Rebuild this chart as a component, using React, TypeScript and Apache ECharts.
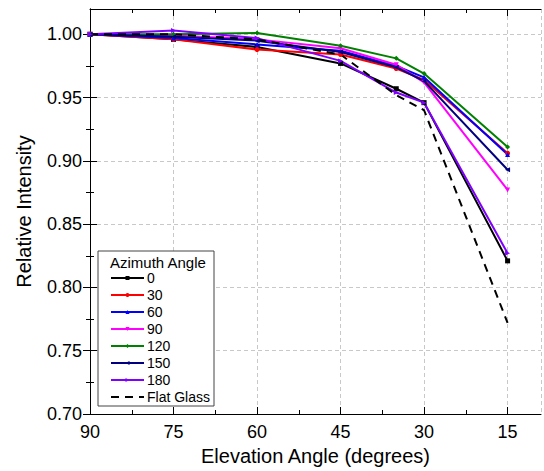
import React, { useEffect, useRef } from "react";
import * as echarts from "echarts";

const elevation = [90, 75, 60, 45, 35, 30, 15];
const az0 = [1.0, 0.996, 0.99, 0.977, 0.957, 0.946, 0.821];
const az30 = [1.0, 0.996, 0.988, 0.984, 0.973, 0.964, 0.906];
const az60 = [1.0, 0.997, 0.992, 0.987, 0.975, 0.966, 0.905];
const az90 = [1.0, 0.999, 0.996, 0.989, 0.976, 0.962, 0.877];
const az120 = [1.0, 1.0, 1.001, 0.991, 0.981, 0.969, 0.911];
const az150 = [1.0, 0.998, 0.995, 0.986, 0.974, 0.963, 0.893];
const az180 = [1.0, 1.003, 0.997, 0.979, 0.954, 0.946, 0.827];
const flatGlass = [1.0, 1.0, 0.996, 0.984, 0.952, 0.94, 0.772];

const xMajor = [90, 75, 60, 45, 30, 15];
const xMinor = [82.5, 67.5, 52.5, 37.5, 22.5];
const yMinor = [0.725, 0.775, 0.825, 0.875, 0.925, 0.975];

const seriesDefs = [
  { name: "0", values: az0, color: "#000000", symbol: "rect", rotate: 0 },
  { name: "30", values: az30, color: "#ff0000", symbol: "circle", rotate: 0 },
  { name: "60", values: az60, color: "#0000ff", symbol: "triangle", rotate: 0 },
  { name: "90", values: az90, color: "#ff00ff", symbol: "triangle", rotate: 180 },
  { name: "120", values: az120, color: "#008000", symbol: "diamond", rotate: 0 },
  { name: "150", values: az150, color: "#000080", symbol: "triangle", rotate: 90 },
  { name: "180", values: az180, color: "#8000ff", symbol: "triangle", rotate: -90 },
];

// x axis is expressed as (90 - elevation) so ticks start at 90
const toX = (e: number) => 90 - e;

export default function App() {
  const ref = useRef<HTMLDivElement>(null);
  useEffect(() => {
    if (!ref.current) return;
    const chart = echarts.init(ref.current, undefined, { renderer: "svg" });
    const font = "'Liberation Sans', Arial, sans-serif";
    const axisLine = { show: true, lineStyle: { color: "#000", width: 1 } };
    const split = { show: true, lineStyle: { color: "#c8c8c8", type: [4, 3], width: 1 } };
    const xBase = { type: "value", min: 0, max: 81, interval: 15, gridIndex: 0 };
    const yBase = { type: "value", min: 0.7, max: 1.02, interval: 0.05, gridIndex: 0 };

    const series: any[] = seriesDefs.map((d) => ({
      name: d.name,
      type: "line",
      xAxisIndex: 0,
      yAxisIndex: 0,
      data: elevation.map((e, i) => [toX(e), d.values[i]]),
      symbol: d.symbol,
      symbolRotate: d.rotate,
      symbolSize: 5,
      itemStyle: { color: d.color },
      lineStyle: { color: d.color, width: 2 },
    }));
    series.push({
      name: "Flat Glass",
      type: "line",
      xAxisIndex: 0,
      yAxisIndex: 0,
      data: elevation.map((e, i) => [toX(e), flatGlass[i]]),
      symbol: "none",
      itemStyle: { color: "#000" },
      lineStyle: { color: "#000", width: 2, type: [8, 6] },
    });

    chart.setOption({
      animation: false,
      textStyle: { fontFamily: font },
      grid: { left: 90, right: 3, top: 9, bottom: 57, containLabel: false },
      xAxis: [
        {
          ...xBase,
          position: "bottom",
          axisLine,
          axisTick: { show: true, inside: true, length: 7, lineStyle: { color: "#000" } },
          axisLabel: {
            show: true,
            showMaxLabel: false,
            margin: 9,
            color: "#000",
            fontSize: 18,
            fontFamily: font,
            formatter: (v: number) => String(Math.round(90 - v)),
          },
          splitLine: split,
          name: "Elevation Angle (degrees)",
          nameLocation: "middle",
          nameGap: 32,
          nameTextStyle: { color: "#000", fontSize: 20, fontFamily: font },
        },
        {
          ...xBase,
          position: "bottom",
          axisLine: { show: false },
          axisTick: { show: true, inside: true, length: 4, customValues: xMinor.map(toX), lineStyle: { color: "#000" } },
          axisLabel: { show: false },
          splitLine: { show: false },
        },
        {
          ...xBase,
          position: "top",
          axisLine,
          axisTick: { show: true, inside: true, length: 7, customValues: xMajor.map(toX), lineStyle: { color: "#000" } },
          axisLabel: { show: false },
          splitLine: { show: false },
        },
        {
          ...xBase,
          position: "top",
          axisLine: { show: false },
          axisTick: { show: true, inside: true, length: 4, customValues: xMinor.map(toX), lineStyle: { color: "#000" } },
          axisLabel: { show: false },
          splitLine: { show: false },
        },
      ],
      yAxis: [
        {
          ...yBase,
          position: "left",
          axisLine,
          axisTick: { show: true, inside: true, length: 7, lineStyle: { color: "#000" } },
          axisLabel: {
            show: true,
            showMaxLabel: false,
            margin: 8,
            color: "#000",
            fontSize: 18,
            fontFamily: font,
            formatter: (v: number) => v.toFixed(2),
          },
          splitLine: split,
          name: "Relative Intensity",
          nameLocation: "middle",
          nameGap: 56,
          nameTextStyle: { color: "#000", fontSize: 20, fontFamily: font },
        },
        {
          ...yBase,
          position: "left",
          axisLine: { show: false },
          axisTick: { show: true, inside: true, length: 4, customValues: yMinor, lineStyle: { color: "#000" } },
          axisLabel: { show: false },
          splitLine: { show: false },
        },
        {
          ...yBase,
          position: "right",
          axisLine,
          axisTick: { show: true, inside: true, length: 7, customValues: [0.7, 0.75, 0.8, 0.85, 0.9, 0.95, 1.0], lineStyle: { color: "#000" } },
          axisLabel: { show: false },
          splitLine: { show: false },
        },
        {
          ...yBase,
          position: "right",
          axisLine: { show: false },
          axisTick: { show: true, inside: true, length: 4, customValues: yMinor, lineStyle: { color: "#000" } },
          axisLabel: { show: false },
          splitLine: { show: false },
        },
      ],
      legend: {
        orient: "vertical",
        left: 110,
        top: 271,
        padding: 0,
        z: 10,
        itemWidth: 33,
        itemHeight: 5,
        itemGap: 3,
        textStyle: { color: "#000", fontSize: 14, lineHeight: 14, fontFamily: font, padding: [0, 0, 0, -2] },
        data: [
          ...seriesDefs.map((d) => d.name),
          { name: "Flat Glass", itemStyle: { opacity: 0 } },
        ],
      },
      graphic: [
        {
          type: "rect",
          shape: { x: 98, y: 251, width: 116, height: 155 },
          style: { fill: "#fff", stroke: "#444", lineWidth: 1 },
          z: 3,
        },
        {
          type: "text",
          x: 110,
          y: 262,
          style: {
            text: "Azimuth Angle",
            fontSize: 15,
            fontFamily: font,
            fill: "#000",
            verticalAlign: "middle",
            align: "left",
          },
          z: 11,
        },
      ],
      series,
    });
    return () => chart.dispose();
  }, []);
  return (
    <div
      ref={ref}
      style={{ position: "fixed", left: 0, top: 0, width: 544, height: 471, background: "#fff" }}
    />
  );
}
